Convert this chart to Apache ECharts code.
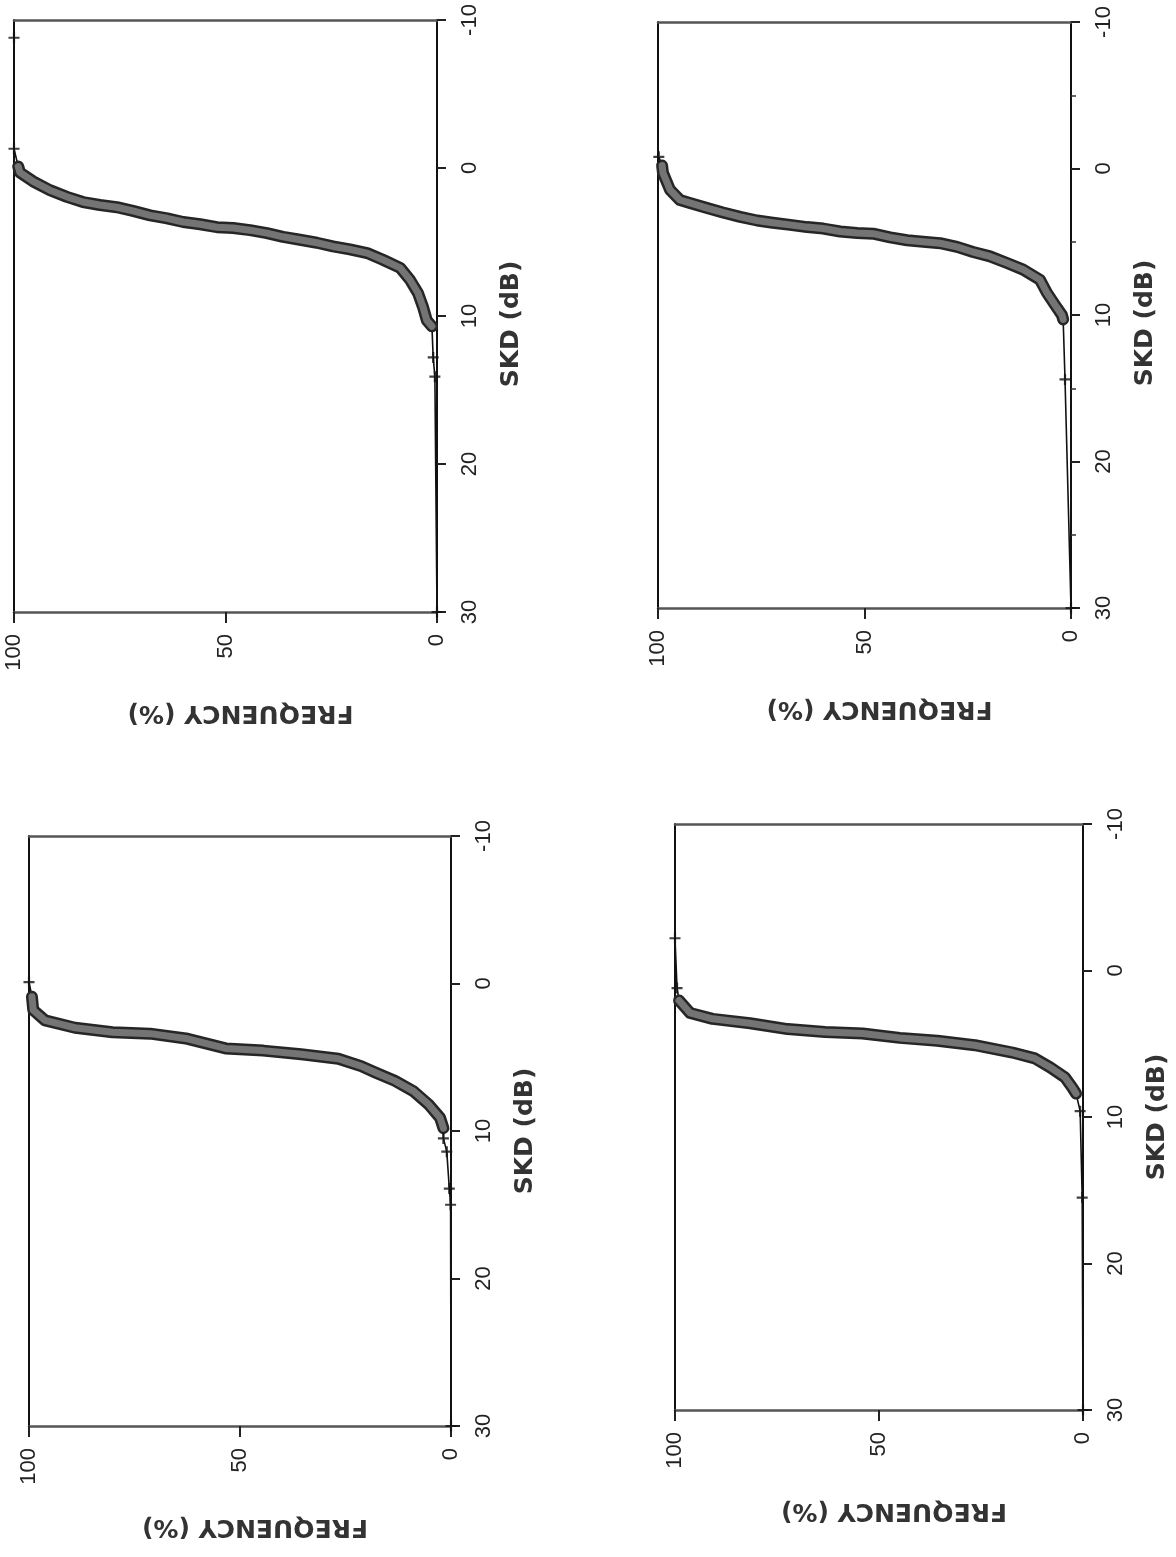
<!DOCTYPE html>
<html>
<head>
<meta charset="utf-8">
<script src="https://cdn.jsdelivr.net/npm/echarts@6/dist/echarts.min.js"></script>
<style>
  html, body { margin: 0; padding: 0; background: #ffffff; }
  #chart { width: 1176px; height: 1557px; }
</style>
</head>
<body>
<div id="chart"></div>
<script>
// Cumulative SKD distributions for four measurement sets.
// Each point is [frequency (%), SKD (dB)].
const freqTicks = [0, 50, 100];
const skdTicks = [-10, 0, 10, 20, 30];

// Set A: dense run of samples and isolated samples at both ends
const denseA = [[99.0, -0.1], [98.6, 0.3], [95.5, 0.9], [91.5, 1.5], [87.5, 1.95], [83.7, 2.3],
  [79.7, 2.5], [75.7, 2.65], [71.9, 2.9], [67.8, 3.2], [63.8, 3.4], [60.0, 3.65], [56.0, 3.8],
  [52.0, 4.0], [48.2, 4.05], [44.2, 4.2], [40.2, 4.4], [36.4, 4.65], [32.4, 4.85], [28.4, 5.05],
  [24.6, 5.3], [20.6, 5.5], [16.5, 5.75], [12.8, 6.2], [8.7, 6.75], [6.4, 7.55], [4.5, 8.45],
  [3.3, 9.4], [2.4, 10.3], [1.2, 10.7]];
const sparseA = [[100, -8.8], [100, -1.3], [0.9, 12.8], [0.5, 14.1], [0, 30]];

// Set B
const denseB = [[99.0, -0.2], [98.8, 0.3], [97.1, 1.45], [94.7, 2.15], [92.3, 2.35], [88.1, 2.7],
  [84.3, 3.0], [80.1, 3.3], [76.0, 3.55], [72.2, 3.7], [68.0, 3.85], [63.9, 4.0], [60.0, 4.1],
  [55.9, 4.3], [51.8, 4.4], [47.9, 4.45], [43.8, 4.7], [39.7, 4.9], [35.8, 5.0], [31.7, 5.1],
  [27.6, 5.35], [23.7, 5.7], [19.6, 6.0], [15.5, 6.45], [11.6, 6.9], [7.5, 7.6], [5.8, 8.5],
  [3.9, 9.3], [2.2, 10.0], [1.9, 10.3]];
const sparseB = [[99.8, -0.8], [1.45, 14.4], [0, 30]];

// Set C
const denseC = [[99.3, 0.9], [99.0, 1.8], [96.2, 2.5], [89.1, 3.0], [80.2, 3.3], [71.3, 3.4],
  [62.4, 3.75], [53.4, 4.4], [44.5, 4.55], [35.5, 4.8], [26.7, 5.1], [21.3, 5.6], [17.8, 6.05],
  [13.3, 6.6], [8.9, 7.3], [5.3, 8.2], [2.6, 9.1], [1.8, 9.8]];
const sparseC = [[100, -0.1], [1.8, 10.5], [1.0, 11.4], [0.4, 13.9], [0.1, 15.0], [0, 30]];

// Set D
const denseD = [[99.0, 2.05], [96.3, 2.9], [90.8, 3.3], [81.6, 3.6], [72.4, 4.0], [63.2, 4.2],
  [54.0, 4.3], [44.9, 4.6], [35.7, 4.8], [26.5, 5.1], [17.3, 5.6], [11.8, 6.0], [8.1, 6.6],
  [4.4, 7.3], [2.6, 8.0], [1.7, 8.4]];
const sparseD = [[100, -2.2], [99.5, 1.2], [0.7, 9.6], [0.2, 15.5], [0, 30]];

const panels = [
  { dense: denseA, sparse: sparseA, box: { left: 14, top: 20, width: 423, height: 592 }, minor: false, shift: 16 },
  { dense: denseB, sparse: sparseB, box: { left: 658, top: 22, width: 413, height: 586 }, minor: true, shift: 16 },
  { dense: denseC, sparse: sparseC, box: { left: 29, top: 836, width: 422, height: 590 }, minor: false, shift: 0 },
  { dense: denseD, sparse: sparseD, box: { left: 675, top: 824, width: 408, height: 586 }, minor: false, shift: 0 }
];

const labelFont = { fontFamily: 'Liberation Sans', fontSize: 22, color: '#222' };
const nameFont = { fontFamily: 'DejaVu Sans', fontWeight: 'bold', fontSize: 25, color: '#333' };
const plusPath = 'path://M4,0H6V10H4Z M0,4H10V6H0Z';

const grid = [], xAxis = [], yAxis = [], series = [];

panels.forEach((p, i) => {
  grid.push(Object.assign({ containLabel: false }, p.box));

  const fMin = Math.min(...freqTicks), fMax = Math.max(...freqTicks);
  const sMin = Math.min(...skdTicks), sMax = Math.max(...skdTicks);

  // frequency axis along the bottom edge, 100 % on the left
  xAxis.push({
    type: 'value', gridIndex: i, position: 'bottom', inverse: true,
    min: fMin, max: fMax, interval: freqTicks[1] - freqTicks[0],
    axisLine: { show: true, onZero: false, lineStyle: { color: '#555', width: 2.5 } },
    axisTick: { show: true, length: 11, lineStyle: { color: '#222', width: 2 } },
    axisLabel: Object.assign({ rotate: 90, margin: 22 }, labelFont),
    splitLine: { show: false },
    name: 'FREQUENCY (%)', nameLocation: 'middle', nameGap: 88, nameRotate: 180,
    nameTextStyle: Object.assign({ padding: [0, 30, 0, 0] }, nameFont)
  });
  // closing edge of the frame at the top
  xAxis.push({
    type: 'value', gridIndex: i, position: 'top', inverse: true, min: fMin, max: fMax,
    axisLine: { show: true, onZero: false, lineStyle: { color: '#555', width: 2.5 } },
    axisTick: { show: false }, axisLabel: { show: false }, splitLine: { show: false }
  });

  // SKD axis on the right edge, -10 dB at the top
  yAxis.push({
    type: 'value', gridIndex: i, position: 'right', inverse: true,
    min: sMin, max: sMax, interval: skdTicks[1] - skdTicks[0],
    axisLine: { show: true, onZero: false, lineStyle: { color: '#111', width: 2 } },
    axisTick: { show: true, length: 9, lineStyle: { color: '#222', width: 2 } },
    minorTick: { show: p.minor, splitNumber: 2, length: 5, lineStyle: { color: '#333', width: 1.5 } },
    axisLabel: Object.assign({ rotate: 90, margin: 22 }, labelFont),
    splitLine: { show: false },
    name: 'SKD (dB)', nameLocation: 'middle', nameGap: 62, nameRotate: 90,
    nameTextStyle: Object.assign({ padding: [0, p.shift, 0, 0] }, nameFont)
  });
  // closing edge of the frame on the left
  yAxis.push({
    type: 'value', gridIndex: i, position: 'left', inverse: true, min: sMin, max: sMax,
    axisLine: { show: true, onZero: false, lineStyle: { color: '#111', width: 2 } },
    axisTick: { show: false }, axisLabel: { show: false }, splitLine: { show: false }
  });

  const xi = i * 2, yi = i * 2;
  const all = p.dense.concat(p.sparse).sort((a, b) => a[1] - b[1]);

  // connecting trace through every sample
  series.push({
    type: 'line', xAxisIndex: xi, yAxisIndex: yi, data: all, symbol: 'none', z: 2,
    lineStyle: { color: '#111', width: 1.6 }, silent: true
  });
  // dense run drawn as a heavy shaded band
  series.push({
    type: 'line', xAxisIndex: xi, yAxisIndex: yi, data: p.dense, symbol: 'none', z: 3,
    lineStyle: { color: '#262626', width: 12, cap: 'round', join: 'round' }, silent: true
  });
  series.push({
    type: 'line', xAxisIndex: xi, yAxisIndex: yi, data: p.dense, symbol: 'none', z: 4,
    lineStyle: { color: '#747474', width: 7, cap: 'round', join: 'round' }, silent: true
  });
  // isolated samples marked with crosses
  series.push({
    type: 'scatter', xAxisIndex: xi, yAxisIndex: yi, data: p.sparse, z: 5,
    symbol: plusPath, symbolSize: 11, itemStyle: { color: '#111' }, silent: true
  });
});

const chart = echarts.init(document.getElementById('chart'), null, { renderer: 'canvas' });
chart.setOption({ animation: false, backgroundColor: '#ffffff', grid, xAxis, yAxis, series });
</script>
</body>
</html>
